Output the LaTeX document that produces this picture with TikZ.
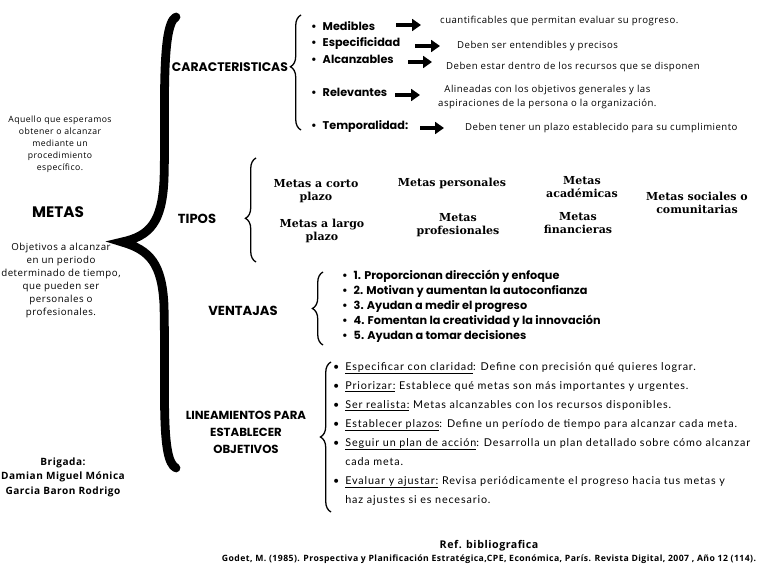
\documentclass[tikz,border=0pt]{standalone}
\usepackage{fontspec}
\setmainfont{Open Sans}
\newfontfamily\hand{Open Sans}[LetterSpace=5]
\newfontfamily\heads{Poppins}
\newfontfamily\slab{DejaVu Serif}
\newfontfamily\plain{Lato}[LetterSpace=8]
\usetikzlibrary{arrows.meta, positioning, calc, decorations.pathreplacing}

\begin{document}
\begin{tikzpicture}[
    x=0.3mm, y=-0.3mm,
    title/.style={font=\heads\bfseries\fontsize{11.2}{14}\selectfont, align=center, inner sep=0pt},
    note/.style={font=\hand\fontsize{7.4}{10.2}\selectfont, align=center, inner sep=0pt},
    item/.style={font=\heads\bfseries\fontsize{9.6}{10}\selectfont, anchor=west, inner sep=0pt},
    desc/.style={font=\hand\fontsize{8.2}{12}\selectfont, anchor=west, inner sep=0pt, align=center},
    kind/.style={font=\slab\bfseries\fontsize{9.4}{10.5}\selectfont, align=center, inner sep=0pt},
    arr/.style={-{Triangle[length=7.5pt, width=10pt]}, line width=3pt},
    curly/.style={decorate, decoration={brace, amplitude=9pt, aspect=#1}, line width=1.1pt},
    curly/.default=0.5
]
\useasboundingbox (0,0) rectangle (768,576);

% Columna izquierda
\node[note] (aquello) at (60,144) {Aquello que esperamos\\obtener o alcanzar\\mediante un\\procedimiento\\específico.};
\node[title, font=\heads\bfseries\fontsize{13}{14}\selectfont] (metas) at (58,212) {METAS};
\node[note, font=\hand\fontsize{8.3}{11.1}\selectfont] (objetivos) at (61,280) {Objetivos a alcanzar\\en un periodo\\determinado de tiempo,\\que pueden ser\\personales o\\profesionales.};
\node[note, font=\hand\bfseries\fontsize{8.6}{12.4}\selectfont] (brigada) at (63,477) {Brigada:\\Damian Miguel Mónica\\Garcia Baron Rodrigo};

% Llave principal
\draw[line width=7.5pt, line cap=round] (176,17) .. controls (160,25) and (166,120) .. (164,180)
    .. controls (162,222) and (150,236) .. (122,242)
    .. controls (150,250) and (162,264) .. (164,305)
    .. controls (166,390) and (160,460) .. (176,468);

% Caracteristicas
\node[title, font=\heads\bfseries\fontsize{10.6}{14}\selectfont] (carac) at (230,67) {CARACTERISTICAS};
\draw[curly=0.55] (301,130) -- (301,15);

\node[item] (med) at (311,26) {\textbullet\hspace{5pt}Medibles};
\node[item] (esp) at (311,43) {\textbullet\hspace{5pt}Especificidad};
\node[item] (alc) at (311,59) {\textbullet\hspace{5pt}Alcanzables};
\node[item] (rel) at (311,92) {\textbullet\hspace{5pt}Relevantes};
\node[item] (tem) at (311,126) {\textbullet\hspace{5pt}Temporalidad:};

\node[desc] (medd) at (440,21) {cuantificables que permitan evaluar su progreso.};
\node[desc] (espd) at (457,46) {Deben ser entendibles y precisos};
\node[desc] (alcd) at (446,67) {Deben estar dentro de los recursos que se disponen};
\node[desc] (reld) at (438,97) {Alineadas con los objetivos generales y las\\aspiraciones de la persona o la organización.};
\node[desc] (temd) at (465,128) {Deben tener un plazo establecido para su cumplimiento};

\draw[arr] (396,25) coordinate (med1) -- (421,25) coordinate (med2);
\draw[arr] (415,46) coordinate (esp1) -- (440,46) coordinate (esp2);
\draw[arr] (408,62) coordinate (alc1) -- (432,62) coordinate (alc2);
\draw[arr] (395,95) coordinate (rel1) -- (420,95) coordinate (rel2);
\draw[arr] (420,128) coordinate (tem1) -- (444,128) coordinate (tem2);

% Tipos
\node[title] (tipos) at (197,219) {TIPOS};
\draw[curly=0.42] (256,262) -- (256,158);

\node[kind] (corto) at (316,191) {Metas a corto\\plazo};
\node[kind] (largo) at (322,231) {Metas a largo\\plazo};
\node[kind] (pers) at (452,183) {Metas personales};
\node[kind] (prof) at (458,225) {Metas\\profesionales};
\node[kind] (acad) at (582,187) {Metas\\académicas};
\node[kind] (fin) at (578,223) {Metas\\financieras};
\node[kind] (soc) at (697,203) {Metas sociales o\\comunitarias};

% Ventajas
\node[title] (ventajas) at (243,311) {VENTAJAS};
\draw[curly=0.5] (323,345) -- (323,272);
\node[font=\heads\bfseries\fontsize{9.6}{12.8}\selectfont, align=left, anchor=north west, inner sep=0pt] (vent) at (342,270) {%
  \textbullet\hspace{5pt}1. Proporcionan dirección y enfoque\\
  \textbullet\hspace{5pt}2. Motivan y aumentan la autoconfianza\\
  \textbullet\hspace{5pt}3. Ayudan a medir el progreso\\
  \textbullet\hspace{5pt}4. Fomentan la creatividad y la innovación\\
  \textbullet\hspace{5pt}5. Ayudan a tomar decisiones};

% Lineamientos
\node[title, font=\heads\bfseries\fontsize{10}{14.5}\selectfont] (linea) at (246,432) {LINEAMIENTOS PARA\\ESTABLECER\\OBJETIVOS};
\draw[curly=0.5] (331,512) -- (331,362);
\node[font=\plain\fontsize{9.2}{16.2}\selectfont, align=left, anchor=north west, inner sep=0pt] (lineas) at (333,362) {%
  \textbullet\hspace{5pt}\underline{Especificar con claridad}: Define con precisión qué quieres lograr.\\
  \textbullet\hspace{5pt}\underline{Priorizar:} Establece qué metas son más importantes y urgentes.\\
  \textbullet\hspace{5pt}\underline{Ser realista:} Metas alcanzables con los recursos disponibles.\\
  \textbullet\hspace{5pt}\underline{Establecer plazos}: Define un período de tiempo para alcanzar cada meta.\\
  \textbullet\hspace{5pt}\underline{Seguir un plan de acción}: Desarrolla un plan detallado sobre cómo alcanzar\\
  \phantom{\textbullet}\hspace{5pt}cada meta.\\
  \textbullet\hspace{5pt}\underline{Evaluar y ajustar:} Revisa periódicamente el progreso hacia tus metas y\\
  \phantom{\textbullet}\hspace{5pt}haz ajustes si es necesario.};

% Referencia
\node[font=\hand\bfseries\fontsize{9.1}{10}\selectfont, inner sep=0pt] (ref) at (489,546) {Ref. bibliografica};
\node[font=\hand\bfseries\fontsize{7.4}{8}\selectfont, inner sep=0pt, below=3pt of ref.south, anchor=north] (godet) {Godet, M. (1985). Prospectiva y Planificación Estratégica,CPE, Económica, París. Revista Digital, 2007 , Año 12 (114).};

\end{tikzpicture}
\end{document}
